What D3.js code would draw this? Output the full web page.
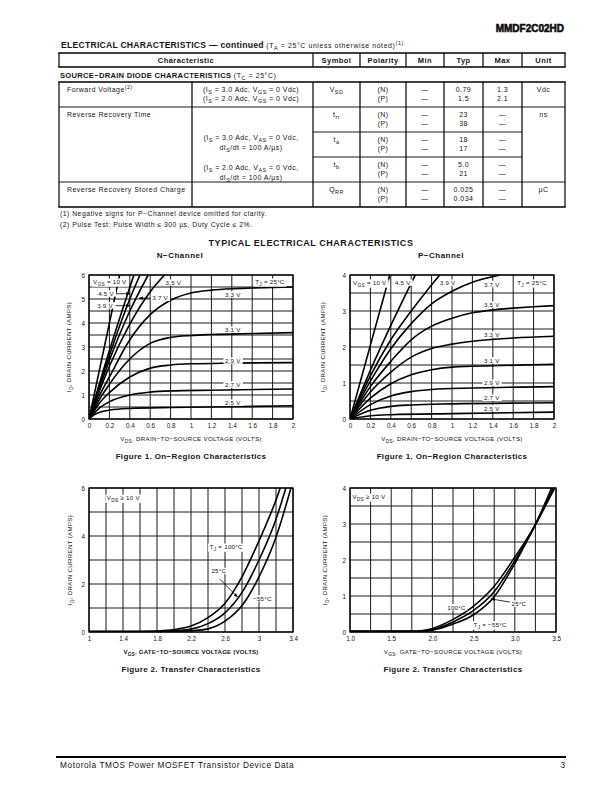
<!DOCTYPE html>
<html><head><meta charset="utf-8">
<script src="https://cdn.jsdelivr.net/npm/d3@7"></script>
<style>
body{margin:0;background:#fff}
svg{display:block}
text{font-family:"Liberation Sans",Arial,Helvetica,sans-serif;fill:#151515}
</style>
</head><body>
<svg id="page" width="612" height="792"></svg>
<script>
// ---------------- DATA ----------------
const partNumber = "MMDF2C02HD";
const tableHeaders = ["Characteristic","Symbol","Polarity","Min","Typ","Max","Unit"];
const fwdCond = ["(I_{S} = 3.0 Adc, V_{GS} = 0 Vdc)","(I_{S} = 2.0 Adc, V_{GS} = 0 Vdc)"];
const rrCond = ["(I_{S} =  3.0 Adc, V_{AS} = 0 Vdc,","dI_{S}/dt = 100 A/µs)","(I_{S} =  2.0 Adc, V_{AS} = 0 Vdc,","dI_{S}/dt = 100 A/µs)"];
const rowNames = ["Forward Voltage^{(2)}","Reverse Recovery Time","","","Reverse Recovery Stored Charge"];
const rowSymbols = ["V_{SD}","t_{rr}","t_{a}","t_{b}","Q_{RR}"];
const rowPolarity = [["(N)","(P)"],["(N)","(P)"],["(N)","(P)"],["(N)","(P)"],["(N)","(P)"]];
const rowMin = [["—","—"],["—","—"],["—","—"],["—","—"],["—","—"]];
const rowTyp = [["0.79","1.5"],["23","38"],["18","17"],["5.0","21"],["0.025","0.034"]];
const rowMax = [["1.3","2.1"],["—","—"],["—","—"],["—","—"],["—","—"]];
const rowUnit = ["Vdc","ns","","","µC"];
const footnotes = ["(1)  Negative signs for P−Channel device omitted for clarity.","(2)  Pulse Test: Pulse Width ≤ 300 µs, Duty Cycle ≤ 2%."];

// Figure 1 N-channel on-region (VDS volts, ID amps)
const n10  = [[0,0],[0.30,6]];
const n45  = [[0,0],[0.2,2.85],[0.44,6]];
const n39  = [[0,0],[0.2,2.65],[0.4,5.0],[0.5,6]];
const n37  = [[0,0],[0.2,2.45],[0.4,4.5],[0.58,6]];
const n35  = [[0,0],[0.2,2.2],[0.4,3.95],[0.6,5.3],[0.74,6]];
const n33  = [[0,0],[0.1,0.95],[0.2,1.75],[0.4,3.3],[0.6,4.35],[0.8,4.95],[1.0,5.25],[1.2,5.37],[1.4,5.43],[1.6,5.46],[2.0,5.5]];
const n31  = [[0,0],[0.1,0.8],[0.2,1.45],[0.4,2.5],[0.6,3.15],[0.8,3.4],[1.0,3.48],[1.2,3.52],[1.6,3.56],[2.0,3.6]];
const n29  = [[0,0],[0.1,0.65],[0.2,1.1],[0.4,1.75],[0.6,2.12],[0.8,2.25],[1.0,2.3],[1.4,2.33],[2.0,2.35]];
const n27  = [[0,0],[0.1,0.45],[0.2,0.72],[0.4,1.0],[0.6,1.12],[0.8,1.17],[1.2,1.2],[2.0,1.25]];
const n25  = [[0,0],[0.05,0.17],[0.1,0.27],[0.2,0.37],[0.4,0.44],[0.8,0.48],[1.4,0.51],[2.0,0.55]];

// Figure 1 P-channel on-region
const p10  = [[0,0],[0.39,4]];
const p45  = [[0,0],[0.2,1.35],[0.4,2.6],[0.64,4]];
const p39  = [[0,0],[0.2,1.2],[0.4,2.2],[0.6,3.0],[0.75,3.55],[0.88,4]];
const p37  = [[0,0],[0.2,1.05],[0.4,1.95],[0.6,2.65],[0.8,3.2],[1.0,3.55],[1.2,3.8],[1.47,4]];
const p35  = [[0,0],[0.2,0.9],[0.4,1.6],[0.6,2.2],[0.8,2.58],[1.0,2.8],[1.2,2.95],[1.4,3.03],[1.6,3.08],[1.8,3.12],[2.0,3.15]];
const p33  = [[0,0],[0.2,0.75],[0.4,1.3],[0.6,1.72],[0.8,1.96],[1.0,2.08],[1.2,2.16],[1.6,2.25],[2.0,2.3]];
const p31  = [[0,0],[0.2,0.58],[0.4,0.98],[0.6,1.23],[0.8,1.37],[1.0,1.44],[1.4,1.48],[2.0,1.52]];
const p29  = [[0,0],[0.2,0.4],[0.4,0.64],[0.6,0.76],[0.8,0.82],[1.2,0.86],[2.0,0.9]];
const p27  = [[0,0],[0.2,0.24],[0.4,0.35],[0.6,0.39],[1.0,0.42],[2.0,0.45]];
const p25  = [[0,0],[0.2,0.09],[0.4,0.12],[1.0,0.15],[2.0,0.19]];

// Figure 2 N-channel transfer (VGS volts, ID amps)
const nT100 = [[1,0.02],[1.6,0.02],[1.8,0.04],[2.0,0.1],[2.2,0.25],[2.4,0.6],[2.6,1.2],[2.8,2.3],[3.0,3.8],[3.2,5.5],[3.26,6.1]];
const nT25  = [[1,0.02],[1.8,0.02],[2.0,0.05],[2.2,0.12],[2.4,0.35],[2.6,0.8],[2.8,1.65],[3.0,3.0],[3.2,4.7],[3.32,6.05]];
const nTm55 = [[1,0.02],[2.0,0.02],[2.2,0.05],[2.4,0.13],[2.6,0.45],[2.8,1.1],[3.0,2.3],[3.2,3.95],[3.38,6.05]];

// Figure 2 P-channel transfer
const pT100 = [[1,0.02],[1.8,0.02],[1.9,0.05],[2.0,0.1],[2.25,0.35],[2.5,0.72],[2.75,1.27],[3.0,2.08],[3.25,3.0],[3.45,4.02]];
const pT25  = [[1,0.02],[1.85,0.02],[2.0,0.07],[2.25,0.28],[2.5,0.6],[2.75,1.12],[3.0,1.98],[3.25,2.98],[3.47,4.02]];
const pTm55 = [[1,0.02],[1.9,0.02],[2.0,0.05],[2.25,0.22],[2.5,0.48],[2.75,0.98],[3.0,1.9],[3.25,2.97],[3.49,4.02]];

// tick labels
const onXTicks = [0,0.2,0.4,0.6,0.8,1,1.2,1.4,1.6,1.8,2];
const onNYTicks = [0,1,2,3,4,5,6];
const onPYTicks = [0,1,2,3,4];
const trNXTicks = [1,1.4,1.8,2.2,2.6,3,3.4];
const trNYTicks = [0,2,4,6];
const trPXTicks = [1.0,1.5,2.0,2.5,3.0,3.5];
const trPYTicks = [0,1,2,3,4];

// ---------------- HELPERS ----------------
const svg = d3.select('#page');
svg.append('rect').attr('width',612).attr('height',792).attr('fill','#fff');

function rich(sel, str, size){
  const re = /([_^])\{([^}]*)\}/g;
  let last=0, m; const parts=[];
  while((m=re.exec(str))){
    if(m.index>last) parts.push({t:str.slice(last,m.index),k:'n'});
    parts.push({t:m[2],k:m[1]==='_'?'sub':'sup'});
    last=re.lastIndex;
  }
  if(last<str.length) parts.push({t:str.slice(last),k:'n'});
  let cur=0;
  parts.forEach(p=>{
    const target = p.k==='sub'? size*0.3 : p.k==='sup'? -size*0.4 : 0;
    const ts = sel.append('tspan').text(p.t).attr('dy', target-cur);
    if(p.k!=='n') ts.attr('font-size', size*0.78);
    cur=target;
  });
}
function txt(parent,x,y,str,size,opts={}){
  const t=parent.append('text').attr('x',x).attr('y',y).attr('font-size',size)
    .attr('text-anchor',opts.anchor||'start').attr('font-weight',opts.bold?'bold':'normal');
  if(opts.ls) t.attr('letter-spacing',opts.ls);
  if(opts.transform) t.attr('transform',opts.transform);
  rich(t,str,size);
  return t;
}
function hline(x1,x2,y,w){svg.append('line').attr('x1',x1).attr('x2',x2).attr('y1',y).attr('y2',y).attr('stroke','#000').attr('stroke-width',w);}
function vline(x,y1,y2,w){svg.append('line').attr('x1',x).attr('x2',x).attr('y1',y1).attr('y2',y2).attr('stroke','#000').attr('stroke-width',w);}

// ---------------- PAGE HEADER ----------------
txt(svg,564,32,partNumber,10,{anchor:'end',bold:true}).attr('stroke','#000').attr('stroke-width',0.55);
{
  const t=svg.append('text').attr('x',61).attr('y',48);
  t.append('tspan').attr('font-size',8.6).attr('font-weight','bold').attr('letter-spacing',0.25).text('ELECTRICAL CHARACTERISTICS — continued ');
  const s=t.append('tspan').attr('font-size',6.9).attr('letter-spacing',0.62);
  rich(s,'(T_{A} = 25°C unless otherwise noted)^{(1)}',6.9);
}

// ---------------- TABLE ----------------
const colX=[59,313,360,406,444,483,522,565];
const subX=192;
const tTop=53, tHead=67, sdLine=82, rowLines=[107,132,157,182,207];
hline(colX[0]-0.7,colX[7]+0.7,tTop,1.6);
hline(colX[0]-0.7,colX[7]+0.7,tHead,1.6);
colX.forEach(x=>vline(x,tTop,tHead,1.2));
tableHeaders.forEach((h,i)=>txt(svg,(colX[i]+colX[i+1])/2,63.2,h,7.5,{anchor:'middle',bold:true,ls:0.45}));
{
  const t=svg.append('text').attr('x',60).attr('y',78.3);
  t.append('tspan').attr('font-size',7.6).attr('font-weight','bold').attr('letter-spacing',0.28).text('SOURCE−DRAIN DIODE CHARACTERISTICS ');
  const s=t.append('tspan').attr('font-size',6.9).attr('letter-spacing',0.62); rich(s,'(T_{C} = 25°C)',6.9);
}
hline(colX[0]-0.7,colX[7]+0.7,sdLine,1.6);
[colX[0],subX,...colX.slice(1)].forEach(x=>vline(x,sdLine,rowLines[4],1.2));
hline(colX[0],colX[7],rowLines[0],0.9);
hline(colX[1],colX[6],rowLines[1],0.9);
hline(colX[1],colX[6],rowLines[2],0.9);
hline(colX[0],colX[7],rowLines[3],0.9);
hline(colX[0]-0.7,colX[7]+0.7,rowLines[4],1.6);
const rowTops=[82,107,132,157,182];
const fs=7, LS=0.45;
rowTops.forEach((top,i)=>{
  const y1=top+9.5, y2=top+19;
  if(rowNames[i]) txt(svg,67,y1,rowNames[i],fs,{ls:LS});
  txt(svg,(colX[1]+colX[2])/2,y1,rowSymbols[i],fs,{anchor:'middle',ls:LS});
  [rowPolarity,rowMin,rowTyp,rowMax].forEach((arr,k)=>{
    const cx=(colX[k+2]+colX[k+3])/2;
    txt(svg,cx,y1,arr[i][0],fs,{anchor:'middle',ls:LS});
    txt(svg,cx,y2,arr[i][1],fs,{anchor:'middle',ls:LS});
  });
  if(rowUnit[i]) txt(svg,(colX[6]+colX[7])/2,y1,rowUnit[i],fs,{anchor:'middle',ls:LS});
});
txt(svg,251,91.5,fwdCond[0],fs,{anchor:'middle',ls:LS});
txt(svg,251,101,fwdCond[1],fs,{anchor:'middle',ls:LS});
[139.5,150.2,169.5,180.2].forEach((y,i)=>txt(svg,251,y,rrCond[i],fs,{anchor:'middle',ls:LS}));
txt(svg,60,216,footnotes[0],6.8,{ls:0.5});
txt(svg,60,227,footnotes[1],6.8,{ls:0.5});

// ---------------- TITLES ----------------
txt(svg,311,246,'TYPICAL ELECTRICAL CHARACTERISTICS',9,{anchor:'middle',bold:true,ls:0.55});
txt(svg,180,258,'N−Channel',8,{anchor:'middle',bold:true,ls:0.5});
txt(svg,441,258,'P−Channel',8,{anchor:'middle',bold:true,ls:0.5});

// ---------------- CHARTS ----------------
let clipId=0;
function drawChart(o){
  const g=svg.append('g');
  const x=d3.scaleLinear().domain(o.xd).range([o.L,o.R]);
  const y=d3.scaleLinear().domain(o.yd).range([o.B,o.T]);
  g.selectAll(null).data(o.xGrid).enter().append('line')
    .attr('x1',d=>x(d)).attr('x2',d=>x(d)).attr('y1',o.T).attr('y2',o.B).attr('stroke','#1a1a1a').attr('stroke-width',1);
  g.selectAll(null).data(o.yGrid).enter().append('line')
    .attr('y1',d=>y(d)).attr('y2',d=>y(d)).attr('x1',o.L).attr('x2',o.R).attr('stroke','#1a1a1a').attr('stroke-width',1);
  const labG=g.append('g');
  const labels=o.labels.map(l=>txt(labG,x(l.x),y(l.y)+2.2,l.t,l.size||6.2,{anchor:l.anchor||'start',ls:0.25}));
  labels.forEach(t=>{
    const b=t.node().getBBox();
    labG.insert('rect','text').attr('x',b.x-1.5).attr('y',b.y+0.3).attr('width',b.width+3).attr('height',b.height-0.6).attr('fill','#fff');
  });
  const id='clip'+(clipId++);
  g.append('clipPath').attr('id',id).append('rect').attr('x',o.L).attr('y',o.T).attr('width',o.R-o.L).attr('height',o.B-o.T);
  const line=d3.line().x(d=>x(d[0])).y(d=>y(d[1])).curve(d3.curveMonotoneX);
  g.append('g').attr('clip-path',`url(#${id})`).selectAll(null).data(o.curves).enter().append('path')
    .attr('d',line).attr('fill','none').attr('stroke','#000').attr('stroke-width',1.6).attr('stroke-linejoin','round');
  (o.arrows||[]).forEach(a=>{
    const x1=x(a[0]),y1=y(a[1]),x2=x(a[2]),y2=y(a[3]);
    g.append('line').attr('x1',x1).attr('y1',y1).attr('x2',x2).attr('y2',y2).attr('stroke','#000').attr('stroke-width',0.8);
    const ang=Math.atan2(y2-y1,x2-x1), L=4, W=1.6;
    const p=[[x2,y2],[x2-L*Math.cos(ang)+W*Math.sin(ang),y2-L*Math.sin(ang)-W*Math.cos(ang)],[x2-L*Math.cos(ang)-W*Math.sin(ang),y2-L*Math.sin(ang)+W*Math.cos(ang)]];
    g.append('path').attr('d','M'+p.map(q=>q.join(',')).join('L')+'Z').attr('fill','#000');
  });
  labG.raise();
  g.append('rect').attr('x',o.L).attr('y',o.T).attr('width',o.R-o.L).attr('height',o.B-o.T).attr('fill','none').attr('stroke','#000').attr('stroke-width',1.3);
  const ax=g.append('g').attr('transform',`translate(0,${o.B})`)
    .call(d3.axisBottom(x).tickValues(o.xTicks).tickFormat(o.xFmt).tickSize(0).tickPadding(5));
  const ay=g.append('g').attr('transform',`translate(${o.L},0)`)
    .call(d3.axisLeft(y).tickValues(o.yTicks).tickFormat(d3.format('d')).tickSize(0).tickPadding(4));
  [ax,ay].forEach(a=>{a.select('.domain').remove(); a.selectAll('text').attr('font-size',6.3).attr('fill','#151515').attr('font-family','"Liberation Sans",Arial,sans-serif');});
  txt(g,(o.L+o.R)/2,o.B+22,o.xTitle,6.1,{anchor:'middle',bold:!!o.xTitleBold,ls:o.xTitleBold?0.2:0.33});
  const cy=(o.T+o.B)/2;
  txt(g,0,0,o.yTitle,6.1,{anchor:'middle',transform:`translate(${o.yTitleX},${cy}) rotate(-90)`,ls:0.35});
  txt(g,(o.L+o.R)/2,o.B+40,o.caption,8,{anchor:'middle',bold:true,ls:0.35});
}

const xOnFmt=d=>String(d);
drawChart({
  L:89,R:293,T:275,B:419,xd:[0,2],yd:[0,6],
  xGrid:d3.range(0,2.01,0.2),yGrid:d3.range(0,6.01,0.5),
  xTicks:onXTicks,yTicks:onNYTicks,xFmt:xOnFmt,
  curves:[n10,n45,n39,n37,n35,n33,n31,n29,n27,n25],
  labels:[
    {x:0.04,y:5.71,t:'V_{GS} = 10 V'},{x:1.63,y:5.71,t:'T_{J} =  25°C'},{x:0.75,y:5.67,t:'3.5 V'},
    {x:0.09,y:5.22,t:'4.5 V'},{x:0.08,y:4.72,t:'3.9 V'},{x:0.62,y:5.04,t:'3.7 V'},
    {x:1.41,y:5.18,t:'3.3 V',anchor:'middle'},{x:1.41,y:3.71,t:'3.1 V',anchor:'middle'},
    {x:1.41,y:2.42,t:'2.9 V',anchor:'middle'},{x:1.41,y:1.42,t:'2.7 V',anchor:'middle'},{x:1.41,y:0.67,t:'2.5 V',anchor:'middle'}],
  arrows:[[0.27,5.22,0.405,5.22],[0.26,4.72,0.405,4.72],[0.61,5.04,0.49,5.04]],
  xTitle:'V_{DS}, DRAIN−TO−SOURCE VOLTAGE (VOLTS)',yTitle:'I_{D}, DRAIN CURRENT (AMPS)',yTitleX:71,
  caption:'Figure 1. On−Region Characteristics'
});
drawChart({
  L:350,R:554,T:275,B:419,xd:[0,2],yd:[0,4],
  xGrid:d3.range(0,2.01,0.2),yGrid:d3.range(0,4.01,0.5),
  xTicks:onXTicks,yTicks:onPYTicks,xFmt:xOnFmt,
  curves:[p10,p45,p39,p37,p35,p33,p31,p29,p27,p25],
  labels:[
    {x:0.03,y:3.78,t:'V_{GS} = 10 V'},{x:0.44,y:3.78,t:'4.5 V'},{x:0.88,y:3.78,t:'3.9 V'},
    {x:1.64,y:3.78,t:'T_{J} =  25°C'},
    {x:1.39,y:3.74,t:'3.7 V',anchor:'middle'},{x:1.39,y:3.17,t:'3.5 V',anchor:'middle'},{x:1.39,y:2.34,t:'3.3 V',anchor:'middle'},
    {x:1.39,y:1.62,t:'3.1 V',anchor:'middle'},{x:1.39,y:1.0,t:'2.9 V',anchor:'middle'},
    {x:1.39,y:0.58,t:'2.7 V',anchor:'middle'},{x:1.39,y:0.29,t:'2.5 V',anchor:'middle'}],
  xTitle:'V_{DS}, DRAIN−TO−SOURCE VOLTAGE (VOLTS)',yTitle:'I_{D}, DRAIN CURRENT (AMPS)',yTitleX:325,
  caption:'Figure 1. On−Region Characteristics'
});
drawChart({
  L:89,R:293,T:488,B:632,xd:[1,3.4],yd:[0,6],
  xGrid:d3.range(1,3.401,0.2),yGrid:d3.range(0,6.01,1),
  xTicks:trNXTicks,yTicks:trNYTicks,xFmt:d=>String(+d.toFixed(1)),
  curves:[nT100,nT25,nTm55],
  labels:[
    {x:1.21,y:5.58,t:'V_{DS} ≥ 10 V'},{x:2.42,y:3.54,t:'T_{J} = 100°C'},
    {x:2.44,y:2.53,t:'25°C'},{x:2.93,y:1.39,t:'−55°C'}],
  arrows:[[2.54,2.2,2.75,1.45]],
  xTitle:'V_{GS}, GATE−TO−SOURCE VOLTAGE (VOLTS)',xTitleBold:true,yTitle:'I_{D}, DRAIN CURRENT (AMPS)',yTitleX:72,
  caption:'Figure 2. Transfer Characteristics'
});
drawChart({
  L:350,R:556,T:488,B:632,xd:[1,3.5],yd:[0,4],
  xGrid:d3.range(1,3.501,0.25),yGrid:d3.range(0,4.01,0.5),
  xTicks:trPXTicks,yTicks:trPYTicks,xFmt:d=>d.toFixed(1),
  curves:[pT100,pT25,pTm55],
  labels:[
    {x:1.03,y:3.75,t:'V_{DS} ≥ 10 V'},{x:2.18,y:0.68,t:'100°C'},
    {x:2.96,y:0.78,t:'25°C'},{x:2.5,y:0.2,t:'T_{J} = −55°C'}],
  arrows:[[2.94,0.83,2.71,0.92]],
  xTitle:'V_{GS}, GATE−TO−SOURCE VOLTAGE (VOLTS)',yTitle:'I_{D}, DRAIN CURRENT (AMPS)',yTitleX:327,
  caption:'Figure 2. Transfer Characteristics'
});

// ---------------- FOOTER ----------------
hline(56,566,757,1.8);
txt(svg,60,768,'Motorola TMOS Power MOSFET Transistor Device Data',8.3,{ls:0.55});
txt(svg,565,768,'3',8.3,{anchor:'end'});
</script>
</body></html>
